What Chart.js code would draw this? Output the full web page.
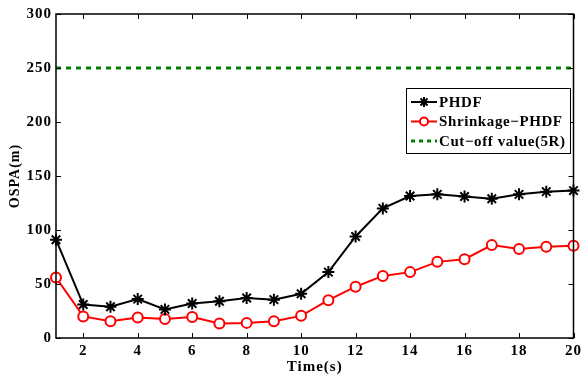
<!DOCTYPE html>
<html>
<head>
<meta charset="utf-8">
<script src="https://cdn.jsdelivr.net/npm/chart.js@4/dist/chart.umd.min.js"></script>
<style>
  html,body{margin:0;padding:0;background:#fff}
  #wrap{width:585px;height:376px;position:relative}
</style>
</head>
<body>
<div id="wrap"><canvas id="c" width="585" height="376"></canvas></div>
<script>
// Data
const times = [1,2,3,4,5,6,7,8,9,10,11,12,13,14,15,16,17,18,19,20]
const phdf = [91,31,29,36,26.5,32,34,37,35.5,41,61,94,120,131.5,133,131,129,133,135.5,136.5]
const shrinkage = [56,20,15.5,19,17.5,19.5,13.5,14,15.5,20.5,35,47.5,57.5,61,70.5,73,86,82.5,84.5,85.5]
const cutoff = 250
const xTicks = [2,4,6,8,10,12,14,16,18,20]
const yTicks = [0,50,100,150,200,250,300]

const FONT = '"Liberation Serif", "Times New Roman", serif'

function pts(xs, ys){ return xs.map((x,i)=>({x:x, y:ys[i]})) }

// the reference text looks a bit stretched, widen it slightly
const spacingPlugin = {
  id: 'spacing',
  beforeDraw(chart){ chart.ctx.letterSpacing = '1px' }
}

// Frame with inward ticks (MATLAB style)
const framePlugin = {
  id: 'frame',
  afterDatasetsDraw(chart){
    const {ctx, chartArea:a, scales} = chart
    ctx.save()
    ctx.strokeStyle = '#000'
    ctx.lineWidth = 1.5
    ctx.strokeRect(a.left, a.top, a.right - a.left, a.bottom - a.top)
    ctx.lineWidth = 1
    ctx.beginPath()
    xTicks.forEach(t=>{
      const px = Math.round(scales.x.getPixelForValue(t)) + 0.5
      ctx.moveTo(px, a.bottom); ctx.lineTo(px, a.bottom - 5)
      ctx.moveTo(px, a.top); ctx.lineTo(px, a.top + 5)
    })
    yTicks.forEach(t=>{
      const py = Math.round(scales.y.getPixelForValue(t)) + 0.5
      ctx.moveTo(a.left, py); ctx.lineTo(a.left + 5, py)
      ctx.moveTo(a.right, py); ctx.lineTo(a.right - 5, py)
    })
    ctx.stroke()
    ctx.restore()
  }
}

// Legend box inside the plot, top right
const legendPlugin = {
  id: 'boxLegend',
  afterDraw(chart){
    const ctx = chart.ctx
    const bx = 406, by = 88, bw = 164, bh = 65
    ctx.save()
    ctx.fillStyle = '#fff'
    ctx.fillRect(bx, by, bw, bh)
    ctx.strokeStyle = '#000'
    ctx.lineWidth = 1
    ctx.strokeRect(bx + 0.5, by + 0.5, bw, bh)
    const rows = [
      {label:'PHDF', color:'#000', dash:[], marker:'star'},
      {label:'Shrinkage\u2212PHDF', color:'#ff0000', dash:[], marker:'circle'},
      {label:'Cut\u2212off value(5R)', color:'#008000', dash:[4,4], marker:null}
    ]
    ctx.font = 'bold 15px ' + FONT
    ctx.letterSpacing = '0.6px'
    ctx.textBaseline = 'middle'
    rows.forEach((r,i)=>{
      const y = by + 14 + i*19.5
      ctx.strokeStyle = r.color
      ctx.lineWidth = r.dash.length ? 3 : 2
      ctx.setLineDash(r.dash)
      ctx.beginPath(); ctx.moveTo(bx + 5, y); ctx.lineTo(bx + 31, y); ctx.stroke()
      ctx.setLineDash([])
      if(r.marker === 'star'){
        Chart.helpers.drawPoint(ctx, {pointStyle:'star', radius:5, borderWidth:2}, bx + 18, y)
      } else if(r.marker === 'circle'){
        ctx.lineWidth = 2
        ctx.beginPath(); ctx.arc(bx + 18, y, 4, 0, Math.PI*2)
        ctx.fillStyle = '#fff'; ctx.fill(); ctx.stroke()
      }
      ctx.fillStyle = '#000'
      ctx.fillText(r.label, bx + 33, y + 1)
    })
    ctx.restore()
  }
}

new Chart(document.getElementById('c').getContext('2d'), {
  type: 'line',
  data: {
    datasets: [
      {
        label: 'PHDF', data: pts(times, phdf), clip: false,
        borderColor: '#000', backgroundColor: '#000', borderWidth: 2,
        pointStyle: 'star', pointRadius: 6, pointBorderWidth: 2, pointBorderColor: '#000'
      },
      {
        label: 'Shrinkage-PHDF', data: pts(times, shrinkage), clip: false,
        borderColor: '#ff0000', backgroundColor: '#fff', borderWidth: 2,
        pointStyle: 'circle', pointRadius: 5, pointBorderWidth: 2, pointBorderColor: '#ff0000'
      },
      {
        label: 'Cut-off value(5R)', data: pts([times[0], times[times.length-1]], [cutoff, cutoff]),
        borderColor: '#008000', borderWidth: 3, borderDash: [5,5], pointRadius: 0
      }
    ]
  },
  options: {
    responsive: false,
    animation: false,
    layout: { padding: { left: 0, right: 8, top: 14, bottom: 0 } },
    plugins: { legend: { display: false }, tooltip: { enabled: false } },
    scales: {
      x: {
        type: 'linear', min: 1, max: 20,
        afterBuildTicks: s => { s.ticks = xTicks.map(v=>({value:v})) },
        afterFit: s => { s.height = 38 },
        grid: { display: false, drawTicks: false },
        border: { display: false },
        ticks: { color: '#000', font: { family: FONT, size: 15, weight: 'bold' }, padding: 4, maxRotation: 0 },
        title: { display: true, text: 'Time(s)', color: '#000', font: { family: FONT, size: 15, weight: 'bold' }, padding: { top: -4, bottom: 0 } }
      },
      y: {
        min: 0, max: 300,
        afterBuildTicks: s => { s.ticks = yTicks.map(v=>({value:v})) },
        afterFit: s => { s.width = 56 },
        grid: { display: false, drawTicks: false },
        border: { display: false },
        ticks: { color: '#000', font: { family: FONT, size: 15, weight: 'bold' }, padding: 4 },
        title: { display: true, text: 'OSPA(m)', color: '#000', font: { family: FONT, size: 14, weight: 'bold' }, padding: { top: 7, bottom: 0 } }
      }
    }
  },
  plugins: [spacingPlugin, framePlugin, legendPlugin]
})
</script>
</body>
</html>
